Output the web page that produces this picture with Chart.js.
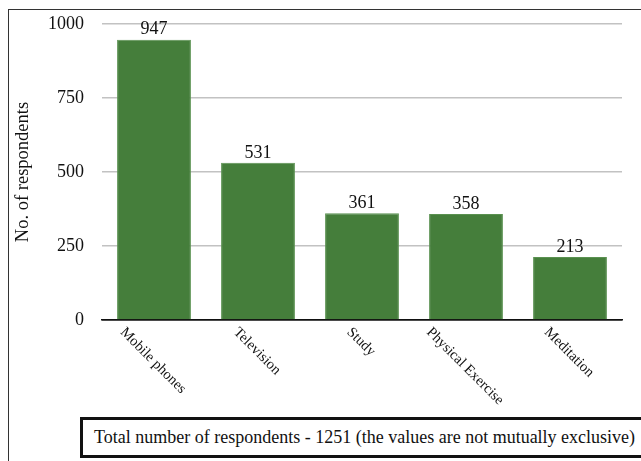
<!DOCTYPE html>
<html>
<head>
<meta charset="utf-8">
<script src="https://cdn.jsdelivr.net/npm/chart.js@4/dist/chart.umd.min.js"></script>
<style>
  html, body { margin: 0; padding: 0; background: #fff; }
  #wrap { position: relative; width: 641px; height: 461px; overflow: hidden; }
  #frame { position: absolute; left: 8px; top: 9px; right: -10px; bottom: -10px;
           border-left: 1.5px solid #333; border-top: 1.5px solid #333; }
  canvas { position: absolute; left: 0; top: 0; }
  #note { position: absolute; left: 80px; top: 417px; width: 580px; height: 35px;
          border: 3px solid #111; background: #fff; box-sizing: content-box;
          font-family: "Liberation Serif", "Times New Roman", serif; font-size: 18px;
          color: #111; line-height: 35px; padding-left: 11px; white-space: nowrap; }
</style>
</head>
<body>
<div id="wrap">
  <div id="frame"></div>
  <canvas id="c" width="641" height="461"></canvas>
  <div id="note">Total number of respondents - 1251 (the values are not mutually exclusive)</div>
</div>
<script>
const categories = ["Mobile phones", "Television", "Study", "Physical Exercise", "Meditation"];
const respondents = [947, 531, 361, 358, 213];
const yTicks = [0, 250, 500, 750, 1000];

const SERIF = '"Liberation Serif", "Times New Roman", serif';

// Value above each bar and slanted category names under the axis
const annotate = {
  id: 'annotate',
  afterDatasetsDraw(chart) {
    const ctx = chart.ctx;
    const meta = chart.getDatasetMeta(0);
    const xs = chart.scales.x;
    ctx.save();
    ctx.fillStyle = '#111';
    ctx.font = '18px ' + SERIF;
    ctx.textAlign = 'center';
    ctx.textBaseline = 'bottom';
    meta.data.forEach((bar, i) => {
      ctx.fillText(String(respondents[i]), bar.x, bar.y - 1);
    });
    ctx.font = '14.5px ' + SERIF;
    ctx.textBaseline = 'middle';
    categories.forEach((name, i) => {
      const x = xs.getPixelForTick(i);
      const w = ctx.measureText(name).width;
      const cy = xs.top + 10 + (w / 2) * Math.SQRT1_2;
      ctx.save();
      ctx.translate(x - 1, cy);
      ctx.rotate(Math.PI / 4);
      ctx.fillText(name, 0, 0);
      ctx.restore();
    });
    ctx.restore();
  }
};

new Chart(document.getElementById('c'), {
  type: 'bar',
  data: {
    labels: categories,
    datasets: [{
      data: respondents,
      backgroundColor: '#457e3b',
      borderColor: '#5a9150',
      borderWidth: 1,
      categoryPercentage: 1,
      barPercentage: 0.71
    }]
  },
  options: {
    responsive: false,
    animation: false,
    events: [],
    layout: { padding: { left: 0, right: 19, top: 24, bottom: 0 } },
    plugins: { legend: { display: false }, tooltip: { enabled: false } },
    scales: {
      x: {
        grid: { display: false },
        border: { display: true, color: '#111', width: 1.5 },
        ticks: { display: false },
        afterFit(scale) { scale.height = 141; scale.paddingLeft = 0; scale.paddingRight = 0; }
      },
      y: {
        min: 0, max: 1000,
        afterBuildTicks(scale) { scale.ticks = yTicks.map(v => ({ value: v })); },
        grid: {
          color: ctx => ctx.tick && ctx.tick.value === 0 ? '#111' : '#c2c2c2',
          lineWidth: 1.5,
          drawTicks: false
        },
        border: { display: false },
        ticks: {
          color: '#111',
          font: { family: SERIF, size: 18 },
          padding: 18,
          callback: v => String(v)
        },
        title: {
          display: true,
          text: 'No. of respondents',
          color: '#111',
          font: { family: SERIF, size: 18.5 },
          padding: { top: 12, bottom: 0 }
        },
        afterFit(scale) { scale.width = 102; scale.paddingTop = 0; scale.paddingBottom = 0; }
      }
    }
  },
  plugins: [annotate]
});
</script>
</body>
</html>
